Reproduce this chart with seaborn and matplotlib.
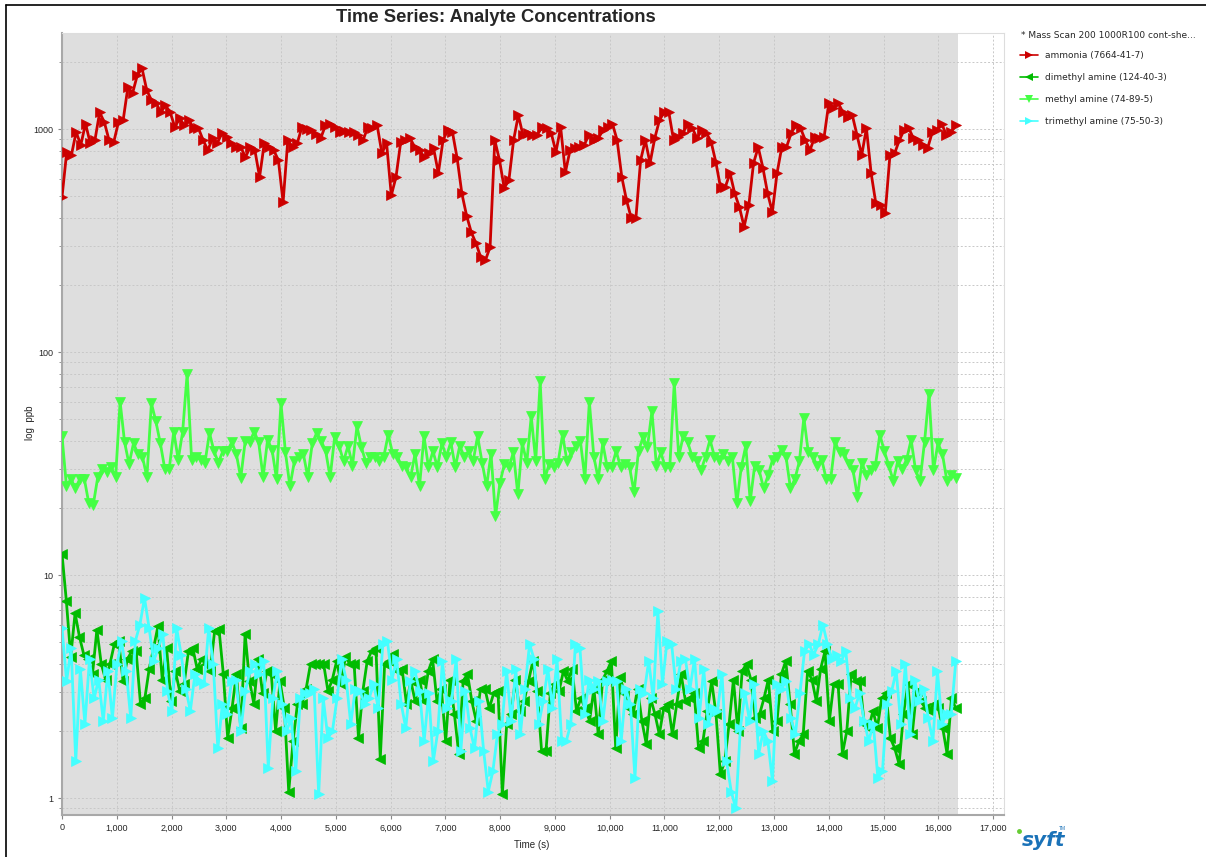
import numpy as np
import pandas as pd
import matplotlib
matplotlib.use("Agg")
import matplotlib.pyplot as plt
from matplotlib.lines import Line2D
from matplotlib.ticker import FuncFormatter, MultipleLocator, LogLocator, NullFormatter
import seaborn as sns

# --- analyte concentrations (ppb) ---
ammonia = [
    495, 790, 765, 970, 850, 1060, 865, 893, 1190, 1075, 893, 875, 1075, 1097, 1540, 1450,
    1745, 1880, 1500, 1350, 1310, 1190, 1280, 1190, 1020, 1120, 1040, 1097, 1010, 1010, 893,
    805, 910, 865, 960, 920, 865, 830, 830, 750, 830, 805, 610, 865, 830, 805, 726, 470, 893,
    830, 865, 1020, 1000, 990, 950, 910, 1040, 1060, 1020, 970, 985, 970, 970, 940, 893,
    1020, 1010, 1040, 780, 865, 505, 610, 875, 893,
    910, 830, 805, 750, 780, 820, 635, 893, 990, 970, 740, 515, 410, 345, 308, 267, 258, 296,
    893, 726, 545, 590, 893, 1155, 940, 960, 940, 940, 1020, 1010, 960, 790, 1020, 640, 805,
    820, 830, 850, 940, 893, 910, 990, 1020, 1060, 893, 610, 480, 400, 400, 726, 893, 704,
    910, 1097, 1190, 1190, 893, 920, 960,
    1060, 1010, 910, 990, 960, 875, 710, 545, 550, 635, 515, 447, 365, 455, 704, 830, 670,
    515, 425, 635, 830, 830, 960, 1040, 1010, 893, 805, 920, 910, 920, 1310, 1250, 1310,
    1190, 1130, 1155, 940, 765, 1010, 635, 465, 455, 420, 765, 780, 893, 990,
    1010, 910, 893, 850, 820, 970, 990, 1060, 940, 970, 1040,
]

dimethyl_amine = [
    12.5, 7.65, 4.3, 6.75, 5.3, 4.4, 4.2, 3.6, 5.7, 4.0, 3.4, 4.0, 4.9, 5.06, 3.35, 4.2, 4.56,
    4.56, 2.65, 2.8, 3.8, 4.7, 5.9, 3.4, 4.7, 2.72, 3.71, 3.02, 3.25, 4.56, 4.7, 3.8, 4.2, 4.0,
    3.71, 5.61, 5.75, 3.6, 1.86, 2.53, 3.6, 2.06, 5.45, 3.35, 2.65, 4.2, 2.95, 3.71, 3.6, 2.0,
    3.35, 2.53, 1.07, 1.8, 2.65, 2.65, 3.1, 4.0, 4.0, 4.0, 4.0, 3.02, 3.4, 4.12, 3.25, 4.3,
    4.0, 4.0, 1.86, 3.02, 4.12, 4.56, 4.7, 1.5, 4.0, 4.12, 4.45, 3.71, 3.8,
    2.65, 3.35, 2.72, 3.4, 2.72, 3.71, 4.2, 2.72, 3.1, 1.8, 3.4, 2.38, 1.58, 3.35, 3.6, 2.72,
    2.22, 3.1, 3.1, 2.53, 2.95, 3.02, 1.04, 2.15, 2.38, 3.4, 2.46, 2.72, 3.35, 4.12, 3.02,
    1.62, 1.62, 2.95, 3.25, 3.02, 3.71, 3.35, 3.8, 2.46, 2.8, 2.53, 2.22, 3.1, 1.93, 3.4,
    3.71, 4.12, 1.67, 3.5, 2.95, 2.53, 2.38, 3.1, 2.22, 1.75, 2.8, 2.38, 1.93, 2.53, 2.65,
    1.93, 2.65,
    3.6, 2.72, 2.8, 2.95, 1.67, 1.8, 2.46, 3.35, 2.38, 1.28, 1.46, 2.15, 3.4, 2.0, 3.71, 4.0,
    3.4, 2.28, 2.38, 2.8, 3.4, 2.0, 2.22, 3.6, 4.12, 2.65, 1.58, 1.8, 1.93, 3.71, 3.4, 2.72,
    3.8, 4.56, 2.22, 3.25, 3.25, 1.58, 2.0, 3.6, 3.35, 3.35, 2.15, 2.06, 2.46, 2.06, 2.8,
    2.95, 1.86, 1.67, 1.42, 2.38, 3.25, 1.93, 3.02, 2.72, 2.53, 2.46, 2.65, 2.53, 2.06, 1.58,
    2.8, 2.53,
]

methyl_amine = [
    42, 25, 27, 24.5, 27, 27, 21, 20.7, 27.5, 30, 29, 30.5, 27.5, 60, 39.5, 31.5, 39, 35, 34,
    27.5, 59, 49, 39, 30, 30, 44, 33, 44, 80, 33, 34, 33, 32, 43.5, 36, 32, 36, 36, 39.5, 35,
    27.3, 40, 39.5, 44, 39.5, 27.5, 40.5, 36.5, 27, 59, 35.5, 25, 32.4, 34, 35, 27.5, 39,
    43.5, 40, 36, 27.5, 41.5, 38, 32.4, 38, 31, 46.5, 37.5, 32, 34, 34, 32.4, 34, 42.7, 35,
    34, 31, 30.5, 27.5, 35, 25, 42, 30.5, 36, 30.5, 39, 34, 39.5, 30.5, 38, 34, 36, 32.4, 42,
    32, 25, 35, 18.4, 26, 31.5, 30.5, 35.5, 23, 39, 32, 51.5, 32.4, 74, 27, 31.5, 30.5, 32,
    42.7, 32.4, 35.5, 38, 40, 27, 60, 34, 27, 39, 30.5, 30.5, 36, 30.5, 31.5, 30.5, 23.5, 36,
    41.5, 37.5, 54.4, 31, 35.5, 30.5, 30.5, 73, 34, 42, 39.5, 34, 32.4, 29.5, 34, 40.5, 34,
    33, 35, 32.4, 34, 21, 30.5, 38, 21.5, 31, 29.5, 24.5, 28, 33, 34, 36.5, 34, 24.5, 27,
    32.4, 50.8, 35.5, 34, 31, 33, 27, 27, 39.5, 35.5, 35, 31.5, 29.5, 22.5, 32, 28, 29.5, 31,
    42.7, 36, 31, 26.5, 32.4, 30, 33, 40.5, 29.5, 26.5, 39.5, 65, 29.5, 39, 35, 26.5, 28, 27.3,
]

trimethyl_amine = [
    5.8, 3.35, 4.7, 1.46, 3.8, 2.15, 4.2, 2.8, 3.4, 2.22, 3.71, 2.28, 4.0, 5.06, 3.71, 2.28,
    5.06, 6.0, 7.9, 5.8, 4.12, 4.7, 5.45, 3.02, 2.46, 5.8, 4.4, 3.1, 2.46, 3.6, 3.35, 3.25,
    5.8, 4.0, 1.67, 2.65, 2.38, 3.35, 3.4, 2.0, 3.02, 3.71, 4.0, 3.6, 4.12, 1.37, 2.8, 3.71,
    2.65, 2.0, 2.28, 1.32, 2.8, 2.95, 2.95, 3.1, 1.04, 2.8, 1.86, 2.0, 2.8, 4.2, 3.4, 2.15,
    3.1, 3.02, 2.65, 2.8, 3.25, 2.53, 4.9, 5.06, 3.4, 4.2, 2.65, 2.06, 3.35,
    3.71, 3.02, 1.8, 2.95, 1.46, 2.0, 4.12, 2.53, 2.72, 4.2, 1.62, 3.02, 2.06, 1.67, 2.72,
    1.62, 1.07, 1.32, 1.93, 2.15, 3.71, 2.22, 3.8, 1.93, 3.1, 4.9, 4.2, 2.15, 2.72, 3.8,
    2.53, 4.2, 1.8, 1.8, 2.15, 4.9, 4.7, 2.38, 3.4, 3.1, 3.35, 2.22, 3.35, 3.4, 3.35, 1.8,
    3.1, 2.65, 1.23, 3.1, 2.95, 4.12, 2.8, 6.9, 3.25, 5.06, 4.9, 3.1, 4.12,
    4.2, 3.1, 4.2, 2.28, 3.8, 2.15, 2.53, 2.46, 3.6, 1.46, 1.07, 0.9, 2.06, 2.95, 2.22, 3.25,
    1.58, 2.0, 1.8, 1.19, 3.25, 3.1, 3.35, 2.28, 1.93, 2.95, 4.56, 4.9, 4.4, 4.9, 6.0, 4.9,
    4.2, 4.4, 4.12, 4.56, 2.8, 2.53, 2.95, 2.22, 1.8, 2.15, 1.23, 1.32, 2.65, 3.02, 3.71,
    2.15, 4.0, 1.93, 3.4, 2.72, 3.1, 2.28, 1.8, 3.71, 2.15, 2.38, 2.38, 4.12,
]

t_end = 16320  # time of the last scan (s)

labels = ["ammonia (7664-41-7)", "dimethyl amine (124-40-3)",
          "methyl amine (74-89-5)", "trimethyl amine (75-50-3)"]
values = [ammonia, dimethyl_amine, methyl_amine, trimethyl_amine]
colors = ["#cc0000", "#00bb00", "#44ff44", "#44ffff"]
markers = [">", "<", "v", ">"]
draw_order = [0, 2, 3, 1]

sns.set_style("white")
plt.rcParams["font.family"] = ["Liberation Sans", "DejaVu Sans"]

W, H = 1206, 857
fig = plt.figure(figsize=(W / 100, H / 100), dpi=100)
ax = fig.add_axes([62 / W, 1 - 815 / H, (1004 - 62) / W, (815 - 33) / H])

for i in draw_order:
    df = pd.DataFrame({"time": np.linspace(0, t_end, len(values[i])), "ppb": values[i]})
    sns.lineplot(data=df, x="time", y="ppb", ax=ax, color=colors[i], marker=markers[i],
                 markersize=7.5, linewidth=2, markeredgecolor=colors[i],
                 markeredgewidth=0.5, estimator=None, zorder=3 + i, legend=False)

ax.set_yscale("log")
ax.set_ylim(0.84, 2700)
ax.set_xlim(0, 17200)
ax.axvspan(0, t_end + 40, color="#dedede", zorder=0, lw=0)

ax.xaxis.set_major_locator(MultipleLocator(1000))
ax.xaxis.set_major_formatter(FuncFormatter(lambda v, p: f"{int(v):,}"))
ax.yaxis.set_major_locator(LogLocator(base=10))
ax.yaxis.set_minor_locator(LogLocator(base=10, subs=range(2, 10)))
ax.yaxis.set_major_formatter(FuncFormatter(lambda v, p: f"{v:g}"))
ax.yaxis.set_minor_formatter(NullFormatter())

ax.set_axisbelow(True)
grid_kw = dict(color="#c8c8c8", linestyle=(0, (2, 2)), linewidth=0.7)
ax.grid(which="major", **grid_kw)
ax.grid(which="minor", axis="y", **grid_kw)

ax.tick_params(axis="both", which="major", labelsize=6.5, length=3, width=0.8,
               color="#888888", pad=3, direction="out", left=True, bottom=True)
ax.tick_params(axis="y", which="minor", length=2, width=0.6, color="#888888", left=True)
ax.set_xlabel("")
ax.set_ylabel("")

for side in ["left", "bottom"]:
    ax.spines[side].set_color("#a8a8a8")
    ax.spines[side].set_linewidth(1.5)
for side in ["top", "right"]:
    ax.spines[side].set_color("#dddddd")
    ax.spines[side].set_linewidth(0.8)

# titles and axis labels
fig.text(496 / W, 1 - 18 / H, "Time Series: Analyte Concentrations", ha="center",
         va="center", fontsize=13.2, fontweight="bold")
fig.text(30 / W, 1 - 423 / H, "log  ppb", rotation=90, ha="center", va="center", fontsize=7)
fig.text(532 / W, 1 - 845 / H, "Time (s)", ha="center", va="center", fontsize=7)

# legend panel
fig.text(1021 / W, 1 - 36 / H, "* Mass Scan 200 1000R100 cont-she...", ha="left",
         va="center", fontsize=6.5, family="DejaVu Sans")
handles = [Line2D([], [], color=c, marker=m, lw=1.2, markersize=6, markeredgewidth=0)
           for c, m in zip(colors, markers)]
fig.legend(handles, labels, loc="upper left", bbox_to_anchor=(1020 / W, 1 - 51 / H),
           frameon=False, prop={"family": "DejaVu Sans", "size": 6.5}, handlelength=2.0,
           labelspacing=1.45, handletextpad=0.8, borderaxespad=0, borderpad=0)

# syft logo
fig.text(1022 / W, 1 - 841 / H, "syft", fontsize=14.5, fontstyle="italic", fontweight="bold",
         color="#1a72b8", ha="left", va="center", family="DejaVu Sans")
fig.text(1059 / W, 1 - 829 / H, "TM", fontsize=3.5, color="#1a72b8", ha="left", va="center")
fig.add_artist(Line2D([1019 / W], [1 - 831 / H], marker="o", markersize=2.5,
                      color="#66cc33", transform=fig.transFigure))

# panel border
fig.add_artist(Line2D([6 / W, 6 / W], [0, 1 - 5 / H], color="black", lw=1.2,
                      transform=fig.transFigure))
fig.add_artist(Line2D([6 / W, 1], [1 - 5 / H, 1 - 5 / H], color="black", lw=1.2,
                      transform=fig.transFigure))

fig.savefig("out.png", dpi=100)
